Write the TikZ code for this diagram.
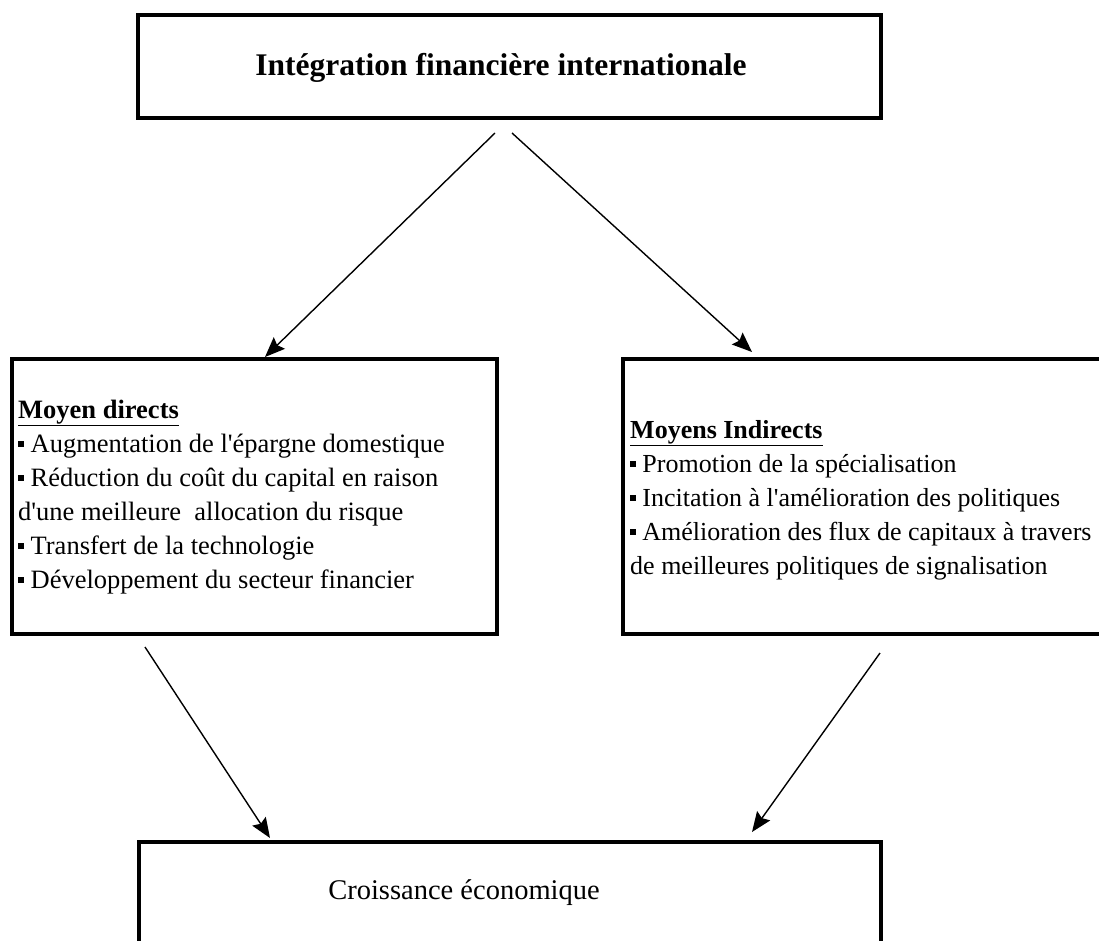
\documentclass[tikz,border=0pt]{standalone}
\usepackage{fontspec}
\setmainfont{Liberation Serif}[Ligatures=TeXOff]
\usetikzlibrary{arrows.meta}
\newcommand{\bul}{\raisebox{0.22em}{\rule{0.22em}{0.22em}}\ }
\tikzset{
  box/.style={draw=black, line width=3.5pt, rectangle, inner sep=0pt},
  arr/.style={-{Stealth[length=20pt,width=16pt,inset=3pt]}, line width=1.4pt},
  bodyfont/.style={font=\fontsize{26.5}{34}\selectfont},
}
\begin{document}
\begin{tikzpicture}[x=1pt,y=-1pt]
\useasboundingbox (0,0) rectangle (1099,940);
\clip (0,0) rectangle (1099,940);
% top box
\node[box, minimum width=743pt, minimum height=103pt] (top) at (509.5,66.5) {};
\node[font=\fontsize{31.5}{34}\selectfont\bfseries, inner sep=0pt] (toptext) at (501,68)
  {Intégration financière internationale};
% left box
\node[box, minimum width=485pt, minimum height=275pt] (dl) at (254.5,496.5) {};
\node[bodyfont, align=left, anchor=west, inner sep=0pt] (dltext) at (18,497)
  {\textbf{\underline{Moyen directs}}\\
   \bul Augmentation de l'épargne domestique\\
   \bul Réduction du coût du capital en raison\\
   d'une meilleure\ \ allocation du risque\\
   \bul Transfert de la technologie\\
   \bul Développement du secteur financier};
% right box
\node[box, minimum width=490pt, minimum height=275pt] (dr) at (868,496.5) {};
\node[font=\fontsize{26}{34}\selectfont, align=left, anchor=west, inner sep=0pt] (drtext) at (630,500)
  {\textbf{\underline{Moyens Indirects}}\\
   \bul Promotion de la spécialisation\\
   \bul Incitation à l'amélioration des politiques\\
   \bul Amélioration des flux de capitaux à travers\\
   de meilleures politiques de signalisation};
% bottom box
\node[box, minimum width=742pt, minimum height=120pt] (bot) at (510,902) {};
\node[font=\fontsize{28.5}{30}\selectfont, inner sep=0pt] (bottext) at (464,893) {Croissance économique};
% arrow end points
\coordinate (s1) at (495,133);
\coordinate (e1) at (265,357);
\coordinate (s2) at (512,133);
\coordinate (e2) at (752,352);
\coordinate (s3) at (145,647);
\coordinate (e3) at (270,838);
\coordinate (s4) at (880,653);
\coordinate (e4) at (752,832);
\draw[arr] (s1) -- (e1);
\draw[arr] (s2) -- (e2);
\draw[arr] (s3) -- (e3);
\draw[arr] (s4) -- (e4);
\end{tikzpicture}
\end{document}
